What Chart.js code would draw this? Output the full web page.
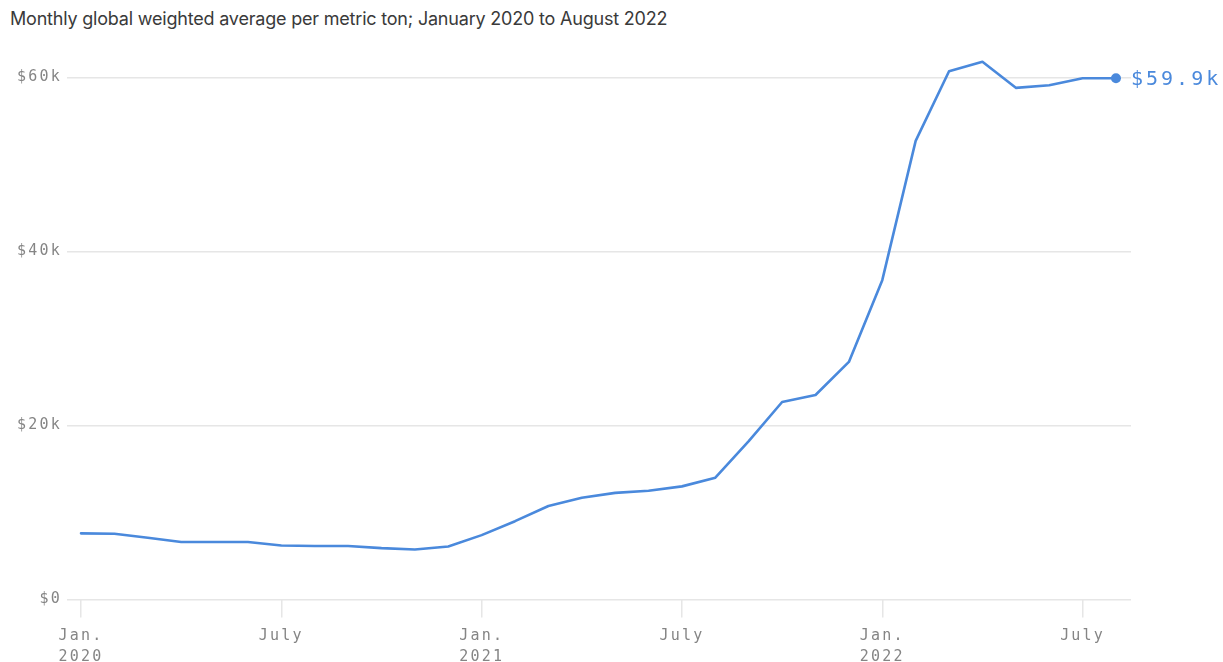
<!DOCTYPE html>
<html>
<head>
<meta charset="utf-8">
<script src="https://cdn.jsdelivr.net/npm/chart.js@4.4.1/dist/chart.umd.min.js"></script>
<style>
  html, body { margin: 0; padding: 0; background: #fff; }
  #wrap { position: relative; width: 1223px; height: 662px; }
  #subtitle {
    position: absolute; left: 10px; top: 8px;
    font-family: Inter, Roboto, "Noto Sans", sans-serif; font-size: 18px;
    color: #3a3a3a; letter-spacing: -0.2px; white-space: nowrap;
  }
  canvas { position: absolute; left: 0; top: 0; }
</style>
</head>
<body>
<div id="wrap">
  <div id="subtitle">Monthly global weighted average per metric ton; January 2020 to August 2022</div>
  <canvas id="c" width="1223" height="662"></canvas>
</div>
<script>
// Months, January 2020 through August 2022
const months = [
  '2020-01','2020-02','2020-03','2020-04','2020-05','2020-06',
  '2020-07','2020-08','2020-09','2020-10','2020-11','2020-12',
  '2021-01','2021-02','2021-03','2021-04','2021-05','2021-06',
  '2021-07','2021-08','2021-09','2021-10','2021-11','2021-12',
  '2022-01','2022-02','2022-03','2022-04','2022-05','2022-06',
  '2022-07','2022-08'
];

// Price in US dollars per metric ton
const prices = [
  7600, 7550, 7100, 6600, 6600, 6600,
  6200, 6150, 6150, 5900, 5750, 6100,
  7400, 9000, 10750, 11700, 12250, 12500,
  13000, 14000, 18200, 22700, 23500, 27300,
  36700, 52700, 60700, 61800, 58800, 59100,
  59900, 59900
];

// Axis ticks
const xTickIndex = [0, 6, 12, 18, 24, 30];
const xTickLabels = [['Jan.', '2020'], 'July', ['Jan.', '2021'], 'July', ['Jan.', '2022'], 'July'];
const yTickValues = [0, 20000, 40000, 60000];
const yTickLabels = ['$0', '$20k', '$40k', '$60k'];

const BLUE = '#4a89dc';
const GRID = '#e6e6e6';
const MONO = '"DejaVu Sans Mono", "Liberation Mono", monospace';

const points = prices.map((v, i) => ({ x: i, y: v }));
const lastIndex = points.length - 1;

// Wider tracking for the monospaced axis text
const spacing = {
  id: 'spacing',
  beforeDraw(chart) { chart.ctx.letterSpacing = '2.2px'; }
};

// Value label at the end of the line
const endLabel = {
  id: 'endLabel',
  afterDatasetsDraw(chart) {
    const pt = chart.getDatasetMeta(0).data[lastIndex];
    const v = prices[lastIndex];
    const ctx = chart.ctx;
    ctx.save();
    ctx.letterSpacing = '3px';
    ctx.font = '20px ' + MONO;
    ctx.fillStyle = BLUE;
    ctx.textAlign = 'left';
    ctx.textBaseline = 'middle';
    ctx.fillText('$' + (v / 1000).toFixed(1) + 'k', pt.x + 15, pt.y + 2);
    ctx.restore();
  }
};

new Chart(document.getElementById('c'), {
  type: 'line',
  data: {
    datasets: [{
      data: points,
      borderColor: BLUE,
      backgroundColor: BLUE,
      borderWidth: 2.6,
      borderJoinStyle: 'round',
      borderCapStyle: 'round',
      tension: 0,
      clip: false,
      pointRadius: ctx => ctx.dataIndex === lastIndex ? 5 : 0,
      pointHoverRadius: 0,
      pointBorderWidth: 0
    }]
  },
  options: {
    responsive: false,
    animation: false,
    events: [],
    layout: { padding: { top: 60, right: 92, bottom: 0, left: 0 } },
    plugins: {
      legend: { display: false },
      tooltip: { enabled: false },
      title: { display: false }
    },
    scales: {
      x: {
        type: 'linear',
        min: -0.42,
        max: 31.45,
        afterBuildTicks: s => { s.ticks = xTickIndex.map(v => ({ value: v })); },
        afterFit: s => { s.height = 62.5; },
        border: { display: false },
        grid: {
          drawOnChartArea: false,
          drawTicks: true,
          tickLength: 18,
          color: GRID,
          lineWidth: 1.5
        },
        ticks: {
          autoSkip: false,
          maxRotation: 0,
          padding: 8,
          color: '#858585',
          font: { family: MONO, size: 15, lineHeight: 1.4 },
          callback: v => xTickLabels[xTickIndex.indexOf(v)]
        }
      },
      y: {
        min: 0,
        max: 62000,
        afterBuildTicks: s => { s.ticks = yTickValues.map(v => ({ value: v })); },
        afterFit: s => { s.width = 67; },
        border: { display: false },
        grid: {
          drawTicks: false,
          color: GRID,
          lineWidth: 1.5
        },
        ticks: {
          padding: 5,
          color: '#858585',
          font: { family: MONO, size: 15 },
          callback: v => yTickLabels[yTickValues.indexOf(v)]
        }
      }
    }
  },
  plugins: [spacing, endLabel]
});
</script>
</body>
</html>
